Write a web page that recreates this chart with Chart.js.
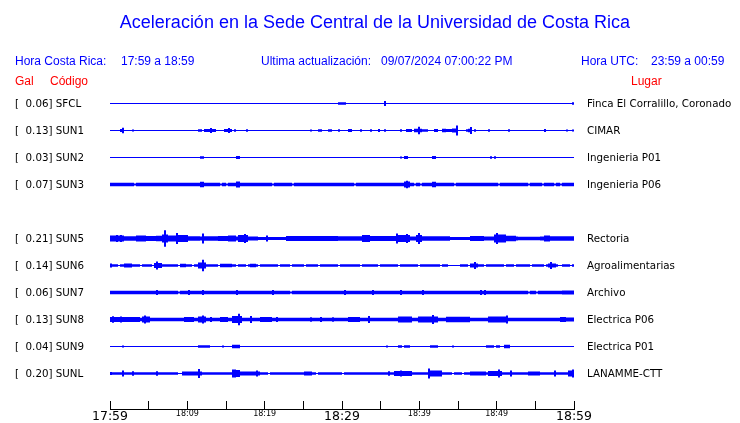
<!DOCTYPE html>
<html><head><meta charset="utf-8">
<script src="https://cdn.jsdelivr.net/npm/chart.js@4"></script>
<style>
body{margin:0;background:#fff;}
#wrap{position:relative;width:740px;height:423px;overflow:hidden;background:#fff;}
canvas{position:absolute;left:0;top:0;}
.t{position:absolute;white-space:pre;font-family:"Liberation Sans",Arial,sans-serif;line-height:1;font-size:12px;}
.b{color:#0000ff;} .r{color:#ff0000;}
</style></head><body>
<div id="wrap">
<canvas id="c" width="740" height="423"></canvas>
<div class="t b" style="left:0;width:750px;text-align:center;top:13px;font-size:18px;">Aceleración en la Sede Central de la Universidad de Costa Rica</div>
<div class="t b" style="left:15px;top:55px;">Hora Costa Rica:</div>
<div class="t b" style="left:121px;top:55px;">17:59 a 18:59</div>
<div class="t b" style="left:261px;top:55px;">Ultima actualización:</div>
<div class="t b" style="left:381px;top:55px;">09/07/2024 07:00:22 PM</div>
<div class="t b" style="left:581px;top:55px;">Hora UTC:</div>
<div class="t b" style="left:651px;top:55px;">23:59 a 00:59</div>
<div class="t r" style="left:15px;top:75px;">Gal</div>
<div class="t r" style="left:50px;top:75px;">Código</div>
<div class="t r" style="left:631px;top:75px;">Lugar</div>
</div>
<script>
// ---- data ----
const stations = ['SFCL','SUN1','SUN2','SUN3','SUN4','SUN5','SUN6','SUN7','SUN8','SUN9','SUNL'];
const galPeak  = [0.06, 0.13, 0.03, 0.07, null, 0.21, 0.14, 0.06, 0.13, 0.04, 0.20];
const places   = ['Finca El Corralillo, Coronado','CIMAR','Ingenieria P01','Ingenieria P06','',
                  'Rectoria','Agroalimentarias','Archivo','Electrica P06','Electrica P01','LANAMME-CTT'];
const timeLabels = ['17:59','18:09','18:19','18:29','18:39','18:49','18:59'];
// background trace half-amplitude (display units) per station
const baseAmp = [0.5, 0.5, 0.5, 1.7, null, 2, 1.3, 1.7, 1.7, 0.5, 1.3];
// bursts: [startMinute, endMinute, halfAmplitude]
const evSFCL = [[29.65,30.3,1.3],[35.6,35.6,2.5],[59.75,60,1.3]];
const evSUN1 = [[1.42,1.6,1.5],[1.72,1.72,2.7],[2.9,2.9,1],[11.55,11.77,1.3],[12.4,13.6,1.5],[13.0,13.0,2.5],
  [14.9,15.6,1.5],[15.4,15.4,2.5],[16.1,16.25,1.3],[17.7,17.7,1.3],[25.9,25.9,1],[27.1,27.4,1.3],[28.2,28.7,1.3],
  [29.65,29.65,1.3],[30.8,31.1,1.5],[32.45,32.45,1.3],[33.65,33.65,1.3],[34.7,34.9,1.5],[35.5,35.5,1.3],
  [37.5,37.5,1.3],[38.45,38.9,1.5],[39.45,40.2,1.7],[39.87,39.87,3.7],[40.5,40.9,1.3],[42,42.2,1.5],
  [43,43.4,1.7],[43.7,44,1.5],[44.4,44.95,2],[44.78,44.78,5],[46.1,46.3,1.3],[46.5,46.75,1.7],[46.6,46.6,3.5],
  [47.3,47.3,1.3],[49.05,49.05,1.3],[51.7,51.7,1.3],[56.25,56.25,1.5],[59.05,59.05,1],[59.9,59.9,1]];
const evSUN2 = [[11.85,12.1,1.3],[16.4,16.65,1.5],[37.7,37.7,1],[38.15,38.5,1.5],[41.8,42.1,1.5],[49.15,49.15,1.3],[49.8,49.8,1.3]];
const evSUN3 = [[3.15,3.15,1],[14.3,14.3,1],[15.1,15.1,1],[21,21,1],[23.7,23.7,1],[31.6,31.6,1],[39.4,39.4,1],
  [40.1,40.1,1],[44.7,44.7,1],[50.35,50.35,1],[54.2,54.2,1],[55.95,55.95,1],[57.5,57.5,1],[58.2,58.2,1],
  [11.85,12.1,2.7],[16.3,16.65,3],[38.15,38.7,3],[38.45,38.45,3.8],[41.8,42.15,2.7]];
const evSUN4 = [];
const evSUN5 = [[0,1.9,3],[1,1,3.5],[1.3,1.3,3.5],[1.9,3.2,2.3],[3.4,4.5,3],[4.7,5.8,2.5],[6,6.7,2.7],
  [6.8,7.75,4],[7.2,7.2,8.3],[7.75,8.6,3],[8.75,9.9,3.5],[8.75,8.75,5.5],[10.1,11.4,2.3],[12.1,12.1,5],
  [12.3,14,2.3],[14.2,15.1,2.5],[15.3,16.2,3],[16.8,17.9,3.5],[17.35,17.35,4.5],[17.9,19.2,2],[19.2,22.6,1.5],
  [20.35,20.35,3],[22.8,25.2,2.5],[25.2,29.5,2.5],[29.5,32.5,2.3],[32.8,33.4,3.5],[33.8,36.8,2.5],
  [37.2,38.7,3.5],[37.2,37.2,5],[38.35,38.35,4.5],[38.8,39.6,2],[39.6,40.5,3.5],[40,40,5.5],[40.5,44,2.3],
  [44,46.8,1.5],[46.8,48.3,2.5],[49.8,51.3,4],[50,50,5.5],[51.3,52.4,2.7],[52.8,55.4,1.8],[56.2,57.1,3],[57.1,60,2.3]];
const evSUN6 = [[1.15,1.15,0.5],[4.1,4.1,0.5],[5.6,5.6,0.5],[9.05,9.05,0.5],[10.65,10.65,0.5],[12.3,12.3,0.5],
  [14.2,14.2,0.5],[16.4,16.4,0.5],[17.7,17.7,0.5],[19.2,19.2,0.5],[21.8,21.8,0.5],[23.3,23.3,0.5],[25.2,25.2,0.5],
  [27.15,27.15,0.5],[29.5,29.5,0.5],[32.5,32.5,0.5],[34.7,34.7,0.5],[37.3,37.3,0.5],[39.9,39.9,0.5],
  [42.9,42.9,0.5],[43.75,45,0.5],[46.3,46.3,0.5],[48.5,48.5,0.5],[51.1,51.1,0.5],[52.4,52.4,0.5],
  [54.5,54.5,0.5],[56.2,56.2,0.5],[58,58.4,0.5],[59.7,59.7,0.5],
  [0,0.2,2],[1.9,2.6,2],[5.8,6.7,2.5],[6.15,6.15,4],[9.3,9.7,1.8],[11.6,12.2,3],[11.95,11.95,5.8],
  [14.4,15.7,1.8],[18.3,18.8,1.8],[46.8,47.4,2],[47.1,47.1,3.5],[56.7,57.5,2],[57.1,57.1,3.5]];
const evSUN7 = [[8.85,8.85,1],[23.3,23.3,1],[54.3,54.3,1],[55.2,55.2,1],
  [6.0,6.0,2.5],[10.2,10.2,2.5],[11.9,11.9,2.5],[16.45,16.45,2.5],[21,21,2.5],[30.4,30.4,2.5],[33.9,33.9,2.5],
  [37.6,37.6,2.5],[40.5,40.5,2.5],[47.9,47.9,2.5],[48.5,48.5,2.5],[58.7,60,2]];
const evSUN8 = [[0,3.7,2.5],[0.3,0.3,3.2],[1.4,1.4,3],[4.3,5,3],[4.6,4.6,4],[9.7,10.8,2.5],[11.6,12.3,3],
  [11.95,11.95,4],[13.1,13.1,2.5],[14.4,15.1,2.5],[15.9,17,3.5],[16.6,16.6,5.7],[18.2,18.2,3.5],[19.6,20.9,2.5],
  [21.5,21.5,2.5],[26.1,26.1,2.3],[27.2,27.2,2.5],[28.9,28.9,2.3],[31,32.3,2.5],[33.4,33.4,3.5],[37.3,38.8,3],
  [40,42.4,3],[41.8,41.8,4.5],[43.7,46.3,2.7],[48.9,51.3,3],[51.3,51.3,4],[58.2,58.8,2.5],[59,60,2]];
const evSUN9 = [[1.7,1.7,1],[11.55,12.7,1.3],[14.5,14.5,1],[15.9,16.8,1.7],[35.8,35.8,1],[37.4,37.7,1.3],
  [38.15,38.6,1.3],[41.4,42.4,1.3],[44.4,44.4,1],[48.8,49.4,1.3],[50,50.4,1.3],[51.1,51.7,1.7]];
const evSUNL = [[8.85,9.5,0.5],[20.5,20.5,0.5],[26.7,26.7,0.5],[30.2,30.2,0.5],[44.4,44.4,0.5],[45.7,45.7,0.5],
  [0,0.2,1.5],[1.7,1.7,3],[3,3,2.3],[6,6,2.3],[9.5,11.85,2],[11.6,11.6,4.5],[15.95,16.4,4],[16.4,17,3.5],
  [16.95,16.95,7.2],[17,19.2,2],[19,19,3],[25.2,25.9,2],[36,36,2.3],[36.8,39,2.5],[37.7,37.7,3],[41.2,42.9,3],
  [41.25,41.25,5],[46.8,48.5,2],[48.9,50.6,2.5],[50.2,50.2,4],[51.95,51.95,3],[54.1,55.4,2],[57.5,57.5,3],
  [59.3,60,3],[59.9,59.9,4]];
const bursts = [evSFCL,evSUN1,evSUN2,evSUN3,evSUN4,evSUN5,evSUN6,evSUN7,evSUN8,evSUN9,evSUNL];

// ---- layout / rendering constants ----
const SPAN = 60, NBINS = 232, ROW0 = 13.5, ROW_GAP = 27, Y_MAX = 311;
const TRACE = '#0000ff';

function envelope(base, ev) {
  const a = new Array(NBINS).fill(base);
  ev.forEach(([t0, t1, v]) => {
    const k0 = Math.min(NBINS - 1, Math.floor(t0 / SPAN * NBINS));
    const k1 = Math.min(NBINS - 1, Math.floor(t1 / SPAN * NBINS));
    for (let k = k0; k <= k1; k++) a[k] = v;
  });
  return a;
}
const rowCenter = i => ROW0 + i * ROW_GAP;
const datasets = [];
stations.forEach((s, i) => {
  if (baseAmp[i] === null) return;
  const c = rowCenter(i);
  const env = envelope(baseAmp[i], bursts[i]);
  datasets.push({
    label: s, type: 'bar', xAxisID: 'x', yAxisID: 'y', grouped: false,
    data: env.map((a, k) => ({ x: (k + 0.5) * SPAN / NBINS, y: [c - a, c + a] })),
    backgroundColor: TRACE, borderWidth: 0, inflateAmount: 0,
    barPercentage: 1, categoryPercentage: 1
  });
});
const rowTicks = () => stations.map((s, i) => i).filter(i => galPeak[i] !== null).map(i => ({ value: rowCenter(i) }));
const rowOf = v => Math.round((v - ROW0) / ROW_GAP);

new Chart(document.getElementById('c'), {
  type: 'bar',
  data: { datasets },
  options: {
    responsive: false, animation: false, events: [],
    layout: { padding: { left: 15, right: 0, top: 90, bottom: 0 } },
    plugins: { legend: { display: false }, tooltip: { enabled: false }, title: { display: false } },
    scales: {
      x: {
        type: 'linear', position: 'bottom', min: 0, max: SPAN, offset: false, weight: 0,
        grid: { display: true, drawOnChartArea: false, drawTicks: true, tickLength: 8, color: '#000', lineWidth: 1, offset: false },
        border: { display: false },
        ticks: { display: false, stepSize: 5 },
        afterFit: s => { s.height = 8; }
      },
      x2: {
        type: 'linear', position: 'bottom', min: 0, max: SPAN, offset: false, weight: 1,
        grid: { display: false, drawTicks: false },
        border: { display: true, color: '#000', width: 1 },
        ticks: {
          stepSize: 10, padding: 0, color: '#000', autoSkip: false, maxRotation: 0,
          font: ctx => ({ family: 'DejaVu Sans', size: (ctx.tick && ctx.tick.value % 30 === 0) ? 12.5 : 8 }),
          callback: v => timeLabels[Math.round(v / 10)]
        },
        afterFit: s => { s.height = 14; }
      },
      y: {
        type: 'linear', position: 'left', min: 0, max: Y_MAX, reverse: true,
        grid: { display: false, drawTicks: false }, border: { display: false },
        afterBuildTicks: ax => { ax.ticks = rowTicks(); },
        ticks: {
          autoSkip: false, crossAlign: 'far', padding: 0, color: '#000', labelOffset: 1,
          font: { family: 'DejaVu Sans', size: 10.3 },
          callback: v => { const i = rowOf(v); return '[  ' + galPeak[i].toFixed(2) + '] ' + stations[i]; }
        },
        afterFit: s => { s.width = 95; }
      },
      yR: {
        type: 'linear', position: 'right', min: 0, max: Y_MAX, reverse: true,
        grid: { display: false, drawTicks: false }, border: { display: false },
        afterBuildTicks: ax => { ax.ticks = rowTicks(); },
        ticks: {
          autoSkip: false, padding: 13, color: '#000', labelOffset: 1,
          font: { family: 'DejaVu Sans', size: 10.3 },
          callback: v => places[rowOf(v)]
        },
        afterFit: s => { s.width = 166; }
      }
    }
  }
});
</script>
</body></html>
